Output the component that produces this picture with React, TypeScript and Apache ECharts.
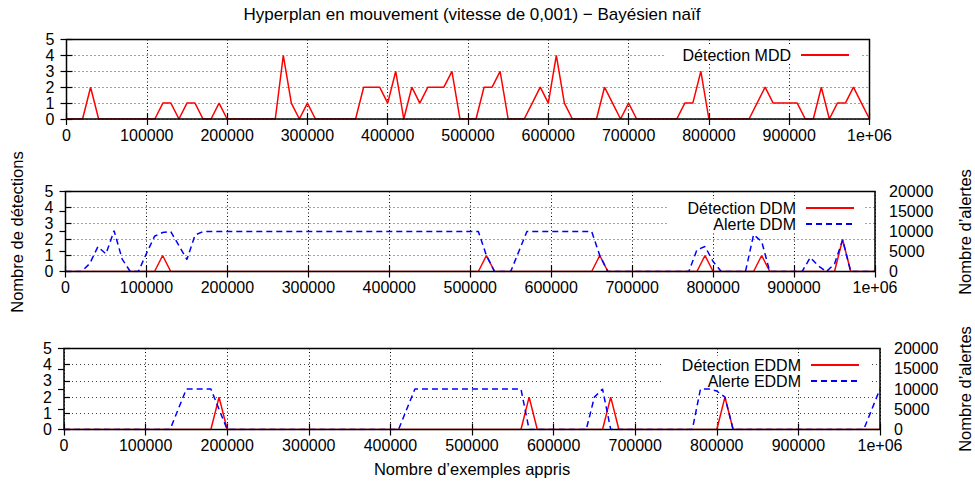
import React, { useEffect, useRef } from 'react';
import * as echarts from 'echarts';

// Sample positions (number of examples seen), one every 10000
const examples: number[] = Array.from({ length: 101 }, (_, i) => i * 10000);

const xTickLabels = ['0', '100000', '200000', '300000', '400000', '500000', '600000', '700000', '800000', '900000', '1e+06'];
const detectionTicks = [0, 1, 2, 3, 4, 5];
const alertTicks = ['0', '5000', '10000', '15000', '20000'];

const mddDetections = [
  0, 0, 0, 2, 0, 0, 0, 0, 0, 0,
  0, 0, 1, 1, 0, 1, 1, 0, 0, 1,
  0, 0, 0, 0, 0, 0, 0, 4, 1, 0,
  1, 0, 0, 0, 0, 0, 0, 2, 2, 2,
  1, 3, 0, 2, 1, 2, 2, 2, 3, 0,
  0, 0, 2, 2, 3, 0, 0, 0, 1, 2,
  1, 4, 1, 0, 0, 0, 0, 2, 1, 0,
  1, 0, 0, 0, 0, 0, 0, 1, 1, 3,
  0, 0, 0, 0, 0, 0, 1, 2, 1, 1,
  1, 1, 0, 0, 2, 0, 1, 1, 2, 1,
  0,
];

const ddmDetections = [
  0, 0, 0, 0, 0, 0, 0, 0, 0, 0,
  0, 0, 1, 0, 0, 0, 0, 0, 0, 0,
  0, 0, 0, 0, 0, 0, 0, 0, 0, 0,
  0, 0, 0, 0, 0, 0, 0, 0, 0, 0,
  0, 0, 0, 0, 0, 0, 0, 0, 0, 0,
  0, 0, 1, 0, 0, 0, 0, 0, 0, 0,
  0, 0, 0, 0, 0, 0, 1, 0, 0, 0,
  0, 0, 0, 0, 0, 0, 0, 0, 0, 1,
  0, 0, 0, 0, 0, 0, 1, 0, 0, 0,
  0, 0, 0, 0, 0, 0, 2, 0, 0, 0,
  0,
];

const ddmAlerts = [
  0, 0, 0, 2000, 6200, 4400, 10200, 3100, 0, 0,
  4500, 8800, 9750, 10000, 6500, 3000, 9100, 10000, 10000, 10000,
  10000, 10000, 10000, 10000, 10000, 10000, 10000, 10000, 10000, 10000,
  10000, 10000, 10000, 10000, 10000, 10000, 10000, 10000, 10000, 10000,
  10000, 10000, 10000, 10000, 10000, 10000, 10000, 10000, 10000, 10000,
  10000, 10000, 4000, 0, 0, 0, 5000, 10000, 10000, 10000,
  10000, 10000, 10000, 10000, 10000, 10000, 4000, 0, 0, 0,
  0, 0, 0, 0, 0, 0, 0, 0, 5400, 6250,
  2500, 0, 0, 0, 0, 9200, 7500, 0, 0, 0,
  0, 0, 3500, 1400, 0, 1900, 7900, 0, 0, 0,
  0,
];

const eddmDetections = [
  0, 0, 0, 0, 0, 0, 0, 0, 0, 0,
  0, 0, 0, 0, 0, 0, 0, 0, 0, 2,
  0, 0, 0, 0, 0, 0, 0, 0, 0, 0,
  0, 0, 0, 0, 0, 0, 0, 0, 0, 0,
  0, 0, 0, 0, 0, 0, 0, 0, 0, 0,
  0, 0, 0, 0, 0, 0, 0, 2, 0, 0,
  0, 0, 0, 0, 0, 0, 0, 2, 0, 0,
  0, 0, 0, 0, 0, 0, 0, 0, 0, 0,
  0, 2, 0, 0, 0, 0, 0, 0, 0, 0,
  0, 0, 0, 0, 0, 0, 0, 0, 0, 0,
  0,
];

const eddmAlerts = [
  0, 0, 0, 0, 0, 0, 0, 0, 0, 0,
  0, 0, 0, 0, 5000, 10000, 10000, 10000, 10000, 5000,
  0, 0, 0, 0, 0, 0, 0, 0, 0, 0,
  0, 0, 0, 0, 0, 0, 0, 0, 0, 0,
  0, 0, 5000, 10000, 10000, 10000, 10000, 10000, 10000, 10000,
  10000, 10000, 10000, 10000, 10000, 10000, 10000, 0, 0, 0,
  0, 0, 0, 0, 0, 8000, 10000, 0, 0, 0,
  0, 0, 0, 0, 0, 0, 0, 0, 10000, 10000,
  9500, 8000, 0, 0, 0, 0, 0, 0, 0, 0,
  0, 0, 0, 0, 0, 0, 0, 0, 0, 5000,
  10000,
];

const TITLE = 'Hyperplan en mouvement (vitesse de 0,001) \u2212 Bayésien naïf';
const X_NAME = 'Nombre d\u2019exemples appris';
const Y_NAME = 'Nombre de détections';
const Y2_NAME = 'Nombre d\u2019alertes';

const FONT = "'Liberation Sans', Arial, Helvetica, sans-serif";
const RED = '#ff0000';
const BLUE = '#0000ff';

export default function App() {
  const ref = useRef<HTMLDivElement>(null);

  useEffect(() => {
    if (!ref.current) return;
    const chart = echarts.init(ref.current, undefined, { renderer: 'svg' });

    const grids = [
      { left: 66.5, top: 39.5, width: 803, height: 79.5 },
      { left: 65.5, top: 191.5, width: 809.5, height: 80 },
      { left: 64, top: 348.5, width: 816, height: 81 },
    ];

    const xMin = 0;
    const xMax = 1000000;
    const xStep = 100000;
    const alertStep = 5000;

    const xAxes: any[] = [];
    const yAxes: any[] = [];
    grids.forEach((_, g) => {
      xAxes.push({
        type: 'value', gridIndex: g, min: xMin, max: xMax, interval: xStep, position: 'bottom',
        axisLine: { show: false },
        axisTick: { show: true, inside: true, length: 6, lineStyle: { color: '#000', width: 1.2 } },
        axisLabel: {
          color: '#000', fontSize: 16, fontFamily: FONT, margin: 8,
          formatter: (v: number) => xTickLabels[Math.round(v / xStep)] ?? String(v),
        },
        splitLine: { show: true, lineStyle: { color: '#000', width: 1, type: [1, 2.5] } },
      });
      xAxes.push({
        type: 'value', gridIndex: g, min: xMin, max: xMax, interval: xStep, position: 'top',
        axisLine: { show: false },
        axisTick: { show: true, inside: true, length: 6, lineStyle: { color: '#000', width: 1.2 } },
        axisLabel: { show: false },
        splitLine: { show: false },
      });
      yAxes.push({
        type: 'value', gridIndex: g, min: detectionTicks[0], max: detectionTicks[detectionTicks.length - 1], interval: 1,
        position: 'left',
        axisLine: { show: false },
        axisTick: { show: true, inside: true, length: 6, lineStyle: { color: '#000', width: 1.2 } },
        axisLabel: { color: '#000', fontSize: 16, fontFamily: FONT, margin: 12 },
        splitLine: { show: true, lineStyle: { color: '#444', width: 1, type: [1, 3] } },
      });
      if (g === 0) {
        yAxes.push({
          type: 'value', gridIndex: g, min: 0, max: 5, interval: 1, position: 'right',
          axisLine: { show: false },
          axisTick: { show: true, inside: true, length: 6, lineStyle: { color: '#000', width: 1.2 } },
          axisLabel: { show: false },
          splitLine: { show: false },
        });
      } else {
        yAxes.push({
          type: 'value', gridIndex: g, min: 0, max: alertStep * (alertTicks.length - 1), interval: alertStep,
          position: 'right',
          axisLine: { show: false },
          axisTick: { show: true, inside: true, length: 6, lineStyle: { color: '#000', width: 1.2 } },
          axisLabel: {
            color: '#000', fontSize: 16, fontFamily: FONT, margin: 14,
            formatter: (v: number) => alertTicks[Math.round(v / alertStep)] ?? String(v),
          },
          splitLine: { show: false },
        });
      }
    });

    const pts = (arr: number[]) => examples.map((x, i) => [x, arr[i]]);
    const detStyle = { color: RED, width: 1.5 };
    const alertStyle = { color: BLUE, width: 1.5, type: [6, 4] };

    const mkSeries = (name: string, arr: number[], xi: number, yi: number, style: any, color: string) => ({
      name, type: 'line', xAxisIndex: xi, yAxisIndex: yi, data: pts(arr),
      symbol: 'none', showSymbol: false, lineStyle: style, itemStyle: { color }, z: 3,
    });

    const legendBase = {
      orient: 'vertical', align: 'right', itemWidth: 48, itemHeight: 14, itemGap: 0,
      backgroundColor: '#fff', selectedMode: false, z: 1,
      textStyle: { fontSize: 16, fontFamily: FONT, color: '#000', lineHeight: 16, padding: [0, 5, 0, 0] },
      itemStyle: { opacity: 0 },
    };

    const textStyle = (text: string, size: number) => ({
      text, fontSize: size, fontFamily: FONT, fill: '#000',
      align: 'center', verticalAlign: 'middle', textAlign: 'center', textVerticalAlign: 'middle',
    });

    chart.setOption({
      animation: false,
      backgroundColor: '#fff',
      grid: grids.map((gr) => ({ ...gr, show: true, borderColor: '#000', borderWidth: 1.5, backgroundColor: 'transparent', z: 10 })),
      xAxis: xAxes,
      yAxis: yAxes,
      legend: [
        { ...legendBase, right: 115, top: 46, padding: [1, 10, 1, 18], data: ['Détection MDD'] },
        { ...legendBase, right: 110, top: 199, padding: [1, 10, 1, 20], data: ['Détection DDM', 'Alerte DDM'] },
        { ...legendBase, right: 105, top: 356, padding: [1, 10, 1, 20], data: ['Détection EDDM', 'Alerte EDDM'] },
      ],
      series: [
        mkSeries('Détection MDD', mddDetections, 0, 0, detStyle, RED),
        mkSeries('Détection DDM', ddmDetections, 2, 2, detStyle, RED),
        mkSeries('Alerte DDM', ddmAlerts, 2, 3, alertStyle, BLUE),
        mkSeries('Détection EDDM', eddmDetections, 4, 4, detStyle, RED),
        mkSeries('Alerte EDDM', eddmAlerts, 4, 5, alertStyle, BLUE),
      ],
      graphic: [
        { type: 'text', x: 472, y: 14, style: textStyle(TITLE, 17) },
        { type: 'text', x: 472, y: 469, style: textStyle(X_NAME, 16.5) },
        { type: 'text', x: 17, y: 232, rotation: Math.PI / 2, style: textStyle(Y_NAME, 16.5) },
        { type: 'text', x: 965, y: 232, rotation: Math.PI / 2, style: textStyle(Y2_NAME, 16.5) },
        { type: 'text', x: 965, y: 389, rotation: Math.PI / 2, style: textStyle(Y2_NAME, 16.5) },
      ],
    });

    return () => chart.dispose();
  }, []);

  return (
    <div
      ref={ref}
      style={{ position: 'fixed', left: 0, top: 0, width: 975, height: 484, background: '#fff' }}
    />
  );
}
